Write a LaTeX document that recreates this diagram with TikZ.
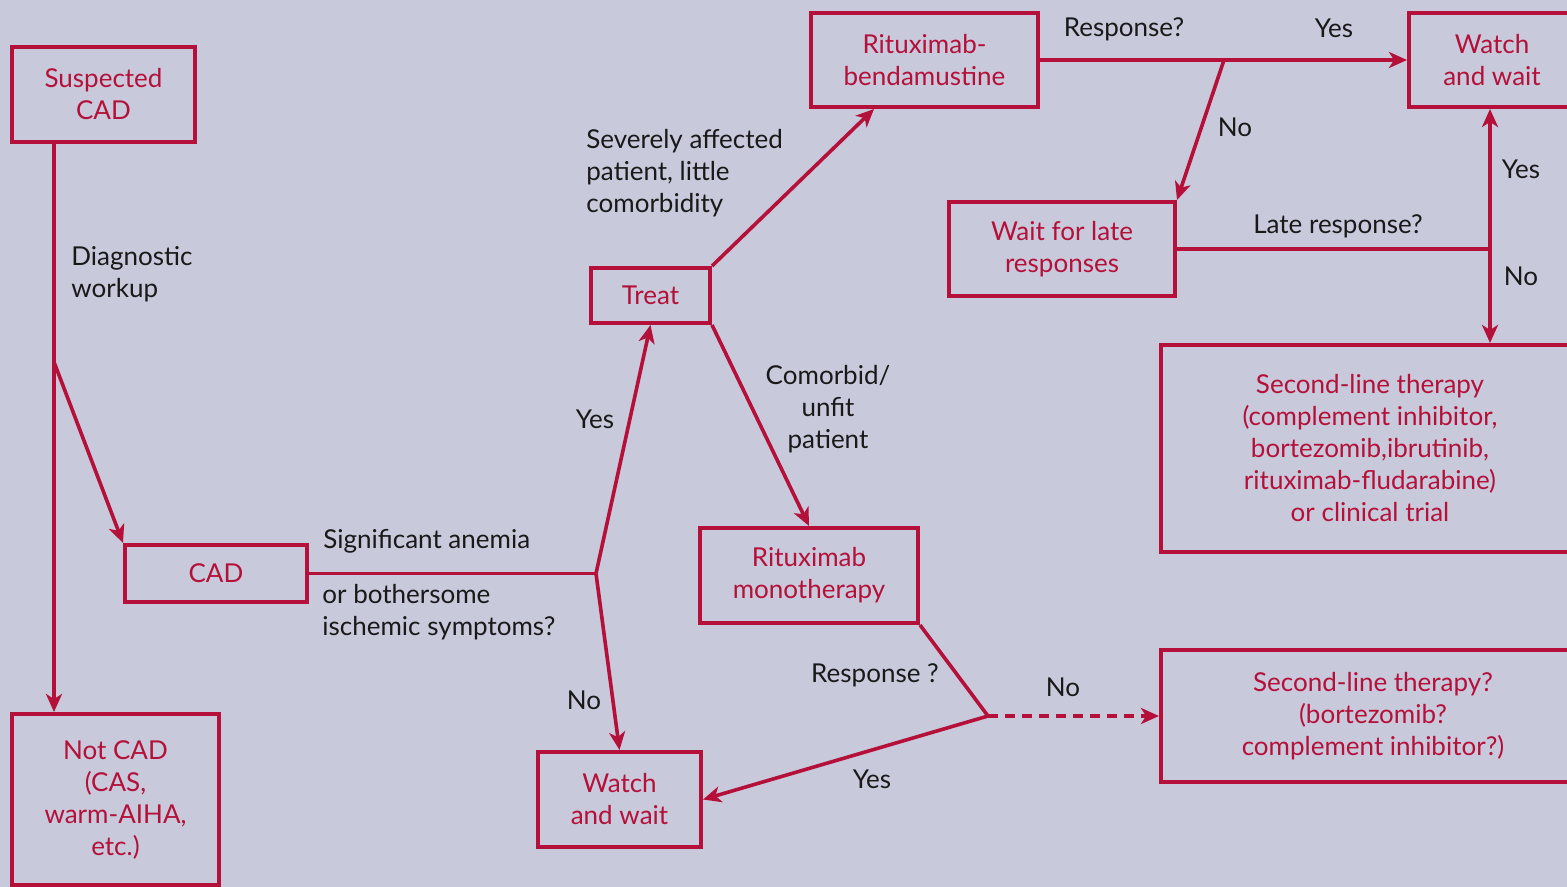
\documentclass[tikz,border=0pt]{standalone}
\usepackage{fontspec}
\setmainfont{Lato}
\usetikzlibrary{arrows.meta,calc}
\definecolor{bg}{RGB}{200,201,219}
\definecolor{cred}{RGB}{180,16,58}
\definecolor{ctext}{RGB}{25,25,25}
\begin{document}
\begin{tikzpicture}[x=0.5pt,y=-0.5pt,
  every node/.style={font=\fontsize{13pt}{16pt}\selectfont, inner sep=0pt},
  box/.style={draw=cred, line width=2pt, text=cred, align=center, rectangle},
  lbl/.style={text=ctext, align=center},
  lbll/.style={text=ctext, align=left, anchor=west},
  line/.style={draw=cred, line width=1.8pt},
  arr/.style={line, -{Stealth[length=9pt,width=8pt,inset=2.5pt]}},
  dashline/.style={dash pattern=on 5pt off 3.5pt}]
\clip (0,0) rectangle (1567,887);
\fill[bg] (0,0) rectangle (1567,887);

% boxes
\node[box, minimum width=91.5pt, minimum height=47.5pt] (sus) at (103.5,94.5) {Suspected\\CAD};
\node[box, minimum width=103.5pt, minimum height=85.5pt] (notcad) at (115.5,799.5) {Not CAD\\(CAS,\\warm-AIHA,\\etc.)};
\node[box, minimum width=91pt, minimum height=28.5pt] (cad) at (216,573.5) {CAD};
\node[box, minimum width=59.5pt, minimum height=27.5pt] (treat) at (650.5,295.5) {Treat};
\node[box, minimum width=113.5pt, minimum height=47pt] (rb) at (924.5,60) {Rituximab-\\bendamustine};
\node[box, minimum width=109pt, minimum height=47.5pt] (rm) at (809,575.5) {Rituximab\\monotherapy};
\node[box, minimum width=81.5pt, minimum height=47.5pt] (ww1) at (619.5,799.5) {Watch\\and wait};
\node[box, minimum width=113pt, minimum height=47pt] (wait) at (1062,249) {Wait for late\\responses};
\node[box, minimum width=83pt, minimum height=47pt] (ww2) at (1492,60) {Watch\\and wait};
\node[box, minimum width=209pt, minimum height=103.5pt] (sl1) at (1370,448.5) {Second-line therapy\\(complement inhibitor,\\bortezomib,ibrutinib,\\rituximab-fludarabine)\\or clinical trial};
\node[box, minimum width=212pt, minimum height=66pt] (sl2) at (1373,716) {Second-line therapy?\\(bortezomib?\\complement inhibitor?)};

% junctions
\coordinate (j1) at (54,362);
\coordinate (j2) at (596,573.5);
\coordinate (j3) at (988,716);
\coordinate (j4) at (1224,60);
\coordinate (j5) at (1490,249);

% connectors
\draw[line] (sus.south -| j1) -- (j1);
\draw[arr] (j1) -- (notcad.north -| j1);
\draw[arr] (j1) -- (cad.north west);
\draw[line] (cad.east) -- (j2);
\draw[arr] (j2) -- (treat.south);
\draw[arr] (j2) -- (ww1.north);
\draw[arr] (treat.north east) -- ($(rb.south west)+(65,0)$);
\draw[arr] (treat.south east) -- (rm.north);
\draw[line] (rm.south east) -- (j3);
\draw[arr] (j3) -- (ww1.east);
\draw[arr, dashline] (j3) -- (sl2.west);
\draw[arr] (rb.east) -- (ww2.west);
\draw[arr] (j4) -- (wait.north east);
\draw[line] (wait.east) -- (j5);
\draw[arr] (j5) -- (ww2.south -| j5);
\draw[arr] (j5) -- (sl1.north -| j5);

% labels
\node[lbll] (l1) at (71,274) {Diagnostic\\workup};
\node[lbll] (l2) at (586,173) {Severely affected\\patient, little\\comorbidity};
\node[lbl] (l3) at (828,409) {Comorbid/\\unfit\\patient};
\node[lbl] (l4) at (595,419) {Yes};
\node[lbll] (l5) at (323,541) {Significant anemia};
\node[lbll] (l6) at (322,612) {or bothersome\\ischemic symptoms?};
\node[lbl] (l7) at (584,700) {No};
\node[lbl] (l8) at (875,675) {Response ?};
\node[lbl] (l9) at (1063,687) {No};
\node[lbl] (l10) at (872,779) {Yes};
\node[lbl] (l11) at (1124,29) {Response?};
\node[lbl] (l12) at (1334,28) {Yes};
\node[lbl] (l13) at (1235,127) {No};
\node[lbl] (l14) at (1521,169) {Yes};
\node[lbl] (l15) at (1338,226) {Late response?};
\node[lbl] (l16) at (1521,276) {No};
\end{tikzpicture}
\end{document}
